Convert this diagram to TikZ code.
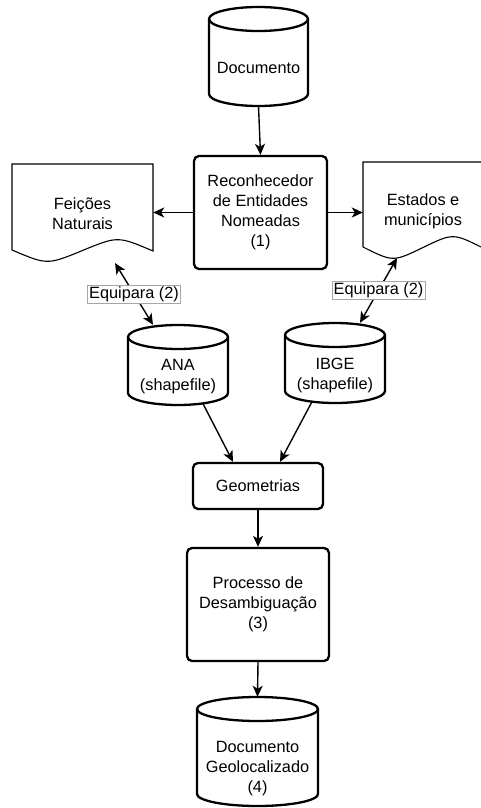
\documentclass[tikz,border=0pt]{standalone}
\usepackage{fontspec}
\setmainfont{Liberation Sans}
\usetikzlibrary{arrows.meta}
\newcommand\mycyl[7]{% #1 name, #2 L, #3 R, #4 T, #5 B, #6 text y, #7 text
  \pgfmathsetmacro\mycx{(#2+#3)/2}%
  \pgfmathsetmacro\mycy{(#4+#5)/2}%
  \pgfmathsetmacro\mycw{#3-#2}%
  \pgfmathsetmacro\mych{#5-#4}%
  \pgfmathsetmacro\myrx{(#3-#2)/2}%
  \node[minimum width=\mycw pt, minimum height=\mych pt] (#1) at (\mycx,\mycy) {};
  \draw[shp] (#2,#4+12) -- (#2,#5-12) arc[start angle=180,end angle=360,x radius=\myrx pt,y radius=12pt] -- (#3,#4+12) arc[start angle=0,end angle=180,x radius=\myrx pt,y radius=12pt] -- cycle;
  \draw[shp] (#2,#4+12) arc[start angle=180,end angle=360,x radius=\myrx pt,y radius=12pt];
  \node at (\mycx,#6) {#7};}
\begin{document}
\begin{tikzpicture}[x=1pt,y=-1pt,
  every node/.style={font=\fontsize{16.3}{20}\selectfont, align=center, inner sep=0pt},
  arr/.style={line width=1.4pt, -{Stealth[length=11pt,width=10pt,inset=3pt]}},
  darr/.style={line width=1.4pt, {Stealth[length=11pt,width=10pt,inset=3pt]}-{Stealth[length=11pt,width=10pt,inset=3pt]}},
  boxst/.style={draw, line width=2.3pt, rounded corners=5pt},
  shp/.style={line width=2.3pt},
  docst/.style={line width=1.1pt},
  lab/.style={fill=white, draw=black!35, line width=0.6pt, inner sep=1.5pt}]
\useasboundingbox (0,0) rectangle (481,808);
\clip (0,0) rectangle (481,808);

% cylinders
\mycyl{doc}{209}{308}{7}{106}{68}{Documento}
\mycyl{ana}{128}{228}{325}{405}{377}{ANA\\(shapefile)}
\mycyl{ibge}{285}{385}{323}{403}{375}{IBGE\\(shapefile)}
\mycyl{geoloc}{197}{318}{697}{806}{769}{Documento\\Geolocalizado\\(4)}

% boxes
\node[boxst, minimum width=133pt, minimum height=113pt] (reco) at (260.5,212.5) {Reconhecedor\\de Entidades\\Nomeadas\\(1)};
\node[boxst, minimum width=130pt, minimum height=46pt] (geo) at (258,486) {Geometrias};
\node[boxst, minimum width=142pt, minimum height=113pt] (proc) at (258,604.5) {Processo de\\Desambiguação\\(3)};

% documents
\draw[docst] (12,250) -- (12,164) -- (153,164) -- (153,251) .. controls (117.75,236) .. (82.5,250.5) .. controls (47.25,265) .. (12,250);
\node[minimum width=141pt] (feic) at (82.5,214) {Feições\\Naturais};
\draw[docst] (363,247) -- (363,162) -- (483,162) -- (483,248) .. controls (453,233) .. (423,247.5) .. controls (393,262) .. (363,247);
\node[minimum width=120pt] (est) at (423,211.5) {Estados e\\municípios};

% connectors
\draw[arr] (doc.south) -- (reco.north);
\draw[arr] (reco.west) -- (reco.west -| feic.east);
\draw[arr] (reco.east) -- (reco.east -| est.west);
\coordinate (fe1) at (115,263);
\coordinate (es1) at (397,258);
\draw[darr] (fe1) -- ([xshift=-25pt]ana.north) node[lab, midway] {Equipara (2)};
\draw[darr] (es1) -- ([xshift=25pt]ibge.north) node[lab, midway] {Equipara (2)};
\draw[arr] ([xshift=25pt,yshift=1.5pt]ana.south) -- ([xshift=-25pt]geo.north);
\draw[arr] ([xshift=-23pt,yshift=1.5pt]ibge.south) -- ([xshift=22pt]geo.north);
\draw[arr] (geo.south) -- (proc.north);
\draw[arr] (proc.south) -- (geoloc.north);
\end{tikzpicture}
\end{document}
